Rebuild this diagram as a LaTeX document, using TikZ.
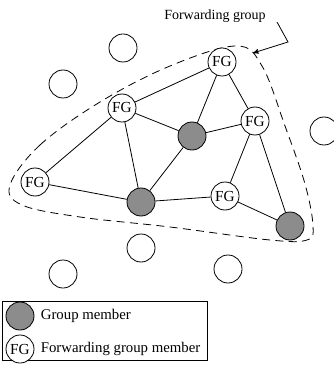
\documentclass[tikz,border=0pt]{standalone}
\usepackage{fontspec}
\setmainfont{Liberation Serif}
\usetikzlibrary{arrows,positioning}

\begin{document}
\begin{tikzpicture}
[x=0.75pt, y=-0.75pt, draw=black, line width=0.6pt, >=stealth',
host/.style={circle, draw, inner sep=0pt, minimum size=21pt},
member/.style={host, fill=black!45},
fgnode/.style={host, fill=white, font=\fontsize{11.5}{12}\selectfont}]

\useasboundingbox (0,0) rectangle (333,370);

% forwarding group boundary
\draw[dashed, dash pattern=on 6pt off 4pt] plot[smooth cycle, tension=0.6] coordinates
{(10,185) (40,145) (100,102) (170,66) (236,46) (262,66) (285,126) (305,184) (313,226) (307,240) (270,240) (170,227) (80,217) (22,205)};
\node (fglabel) at (215,16) {\fontsize{10.5}{12}\selectfont Forwarding group};
\coordinate (bend) at (288,42);
\coordinate (tip) at (253,53);
\draw[->] (277,22) -- (bend) -- (tip);

% other hosts
\node[host] (h1) at (123,48) {};
\node[host] (h2) at (63,84) {};
\node[host] (h3) at (324,131) {};
\node[host] (h4) at (141,248) {};
\node[host] (h5) at (63,274) {};
\node[host] (h6) at (228,269) {};

% forwarding group
\node[fgnode] (fgtop) at (222,62) {FG};
\node[fgnode] (fgleft) at (122,108) {FG};
\node[fgnode] (fgright) at (255,121) {FG};
\node[fgnode] (fgfar) at (35,182) {FG};
\node[fgnode] (fglow) at (225,196) {FG};
\node[member] (mcenter) at (192,136) {};
\node[member] (mbottom) at (141,202) {};
\node[member] (mright) at (290,226) {};

\draw (fgtop) -- (fgleft);
\draw (fgtop) -- (mcenter);
\draw (fgtop) -- (fgright);
\draw (fgleft) -- (mcenter);
\draw (fgleft) -- (fgfar);
\draw (fgleft) -- (mbottom);
\draw (mcenter) -- (fgright);
\draw (mcenter) -- (mbottom);
\draw (fgright) -- (fglow);
\draw (fgright) -- (mright);
\draw (fgfar) -- (mbottom);
\draw (mbottom) -- (fglow);
\draw (fglow) -- (mright);

% legend
\draw (2,301) rectangle (207,360);
\node[member] (keymember) at (20,316) {};
\node[fgnode] (keyfg) at (20,349) {FG};
\node[anchor=west, font=\fontsize{11.1}{12}\selectfont] (keymembertext) at (36,316) {Group member};
\node[anchor=west, font=\fontsize{11.1}{12}\selectfont] (keyfgtext) at (36,349) {Forwarding group member};
\end{tikzpicture}
\end{document}
